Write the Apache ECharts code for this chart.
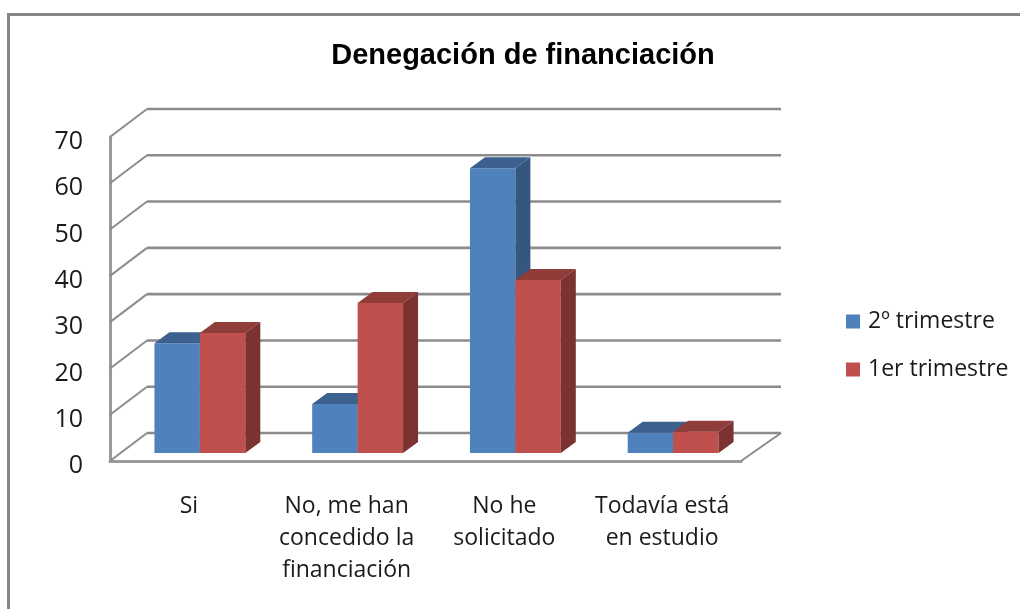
<!DOCTYPE html>
<html>
<head>
<meta charset="utf-8">
<style>
  html, body { margin: 0; padding: 0; background: #fff; }
  #chart { width: 1020px; height: 609px; }
</style>
</head>
<body>
<div id="chart"></div>
<script src="https://cdn.jsdelivr.net/npm/echarts@6/dist/echarts.min.js"></script>
<script>
// data
const categories = ['Si', 'No, me han\nconcedido la\nfinanciación', 'No he\nsolicitado', 'Todavía está\nen estudio']
const segundoTrimestre = [23.7, 10.6, 61.5, 4.4]
const primerTrimestre = [25.9, 32.4, 37.4, 4.6]
const yTicks = [0, 10, 20, 30, 40, 50, 60, 70]

const FONT = 'Open Sans'
const WALL = '#8c8c8c'
// fake 3d, in pixels
const floorDx = 37, floorDy = -28
const barDx = 11, barDy = -8
const depthDx = 15, depthDy = -11

const shade = {
  blue: { front: '#4f81bd', top: '#3c618e', side: '#34577f' },
  red: { front: '#c0504d', top: '#903c39', side: '#7b3230' }
}

const poly = (points, fill) => ({
  type: 'polygon',
  shape: { points },
  style: { fill }
})

// draws one 3d column, side = -1 left of the band centre, 0 right of it
const barRenderer = (side, colors) => (params, api) => {
  const cat = api.value(0)
  const top = api.coord([cat, api.value(1)])
  const base = api.coord([cat, 0])
  const w = api.size([1, 0])[0] * 0.288
  const x0 = top[0] + barDx + side * w
  const x1 = x0 + w
  const y0 = top[1] + barDy
  const y1 = base[1] + barDy
  return {
    type: 'group',
    children: [
      poly([[x0, y0], [x1, y0], [x1, y1], [x0, y1]], colors.front),
      poly([[x0, y0], [x1, y0], [x1 + depthDx, y0 + depthDy], [x0 + depthDx, y0 + depthDy]], colors.top),
      poly([[x1, y0], [x1 + depthDx, y0 + depthDy], [x1 + depthDx, y1 + depthDy], [x1, y1]], colors.side)
    ]
  }
}

// side wall diagonal + back wall line for one tick
const wallRenderer = (params, api) => {
  const left = api.coord([0, api.value(0)])
  const band = api.size([1, 0])[0]
  const x0 = left[0] - band / 2
  const y = left[1]
  const xEnd = x0 + band * categories.length
  const back = [x0 + floorDx, y + floorDy]
  const backEnd = [xEnd + floorDx + 3, y + floorDy]
  const children = [
    { type: 'line', shape: { x1: x0, y1: y, x2: back[0], y2: back[1] }, style: { stroke: WALL, lineWidth: 2 } },
    { type: 'line', shape: { x1: back[0], y1: back[1], x2: backEnd[0], y2: backEnd[1] }, style: { stroke: WALL, lineWidth: 2.6 } }
  ]
  if (api.value(0) === 0) {
    children.push({ type: 'line', shape: { x1: backEnd[0], y1: backEnd[1], x2: xEnd, y2: y }, style: { stroke: WALL, lineWidth: 2 } })
  }
  return { type: 'group', children }
}

const myChart = echarts.init(document.getElementById('chart'))

myChart.setOption({
  backgroundColor: '#fff',
  animation: false,
  title: {
    text: 'Denegación de financiación',
    left: 518,
    top: 36,
    textAlign: 'center',
    textStyle: { fontFamily: 'Liberation Sans', fontSize: 29, fontWeight: 'bold', color: '#000' }
  },
  legend: {
    orient: 'vertical',
    left: 841,
    top: 305,
    itemWidth: 14,
    itemHeight: 14,
    itemGap: 25,
    icon: 'rect',
    data: ['2º trimestre', '1er trimestre'],
    textStyle: { fontFamily: FONT, fontSize: 23, color: '#1a1a1a', padding: [0, 0, 0, 3] }
  },
  grid: { left: 110, top: 137, width: 631, height: 324 },
  xAxis: {
    type: 'category',
    data: categories,
    axisLine: { lineStyle: { color: '#9a9a9a', width: 3 } },
    axisTick: { show: false },
    axisLabel: {
      fontFamily: FONT,
      fontSize: 23,
      lineHeight: 32,
      color: '#1a1a1a',
      margin: 29,
      interval: 0
    }
  },
  yAxis: {
    type: 'value',
    min: 0,
    max: 70,
    interval: 10,
    axisLine: { show: true, lineStyle: { color: '#9a9a9a', width: 3 } },
    axisTick: { show: false },
    splitLine: { show: false },
    // top + short line box pushes the digits a little under the tick, like the original
    axisLabel: { fontFamily: FONT, fontSize: 25, color: '#1a1a1a', margin: 27, verticalAlign: 'top', lineHeight: 10 }
  },
  series: [
    {
      name: 'paredes',
      type: 'custom',
      z: 1,
      silent: true,
      renderItem: wallRenderer,
      encode: { y: 0 },
      data: yTicks.map(t => [t])
    },
    {
      name: '2º trimestre',
      type: 'custom',
      z: 2,
      itemStyle: { color: shade.blue.front },
      renderItem: barRenderer(-1, shade.blue),
      encode: { x: 0, y: 1 },
      data: segundoTrimestre.map((v, i) => [i, v])
    },
    {
      name: '1er trimestre',
      type: 'custom',
      z: 3,
      itemStyle: { color: shade.red.front },
      renderItem: barRenderer(0, shade.red),
      encode: { x: 0, y: 1 },
      data: primerTrimestre.map((v, i) => [i, v])
    }
  ],
  graphic: [
    // marco exterior, cortado por la captura
    {
      type: 'polyline',
      shape: { points: [[8.5, 609], [8.5, 14.5], [1020, 14.5]] },
      style: { stroke: '#868686', lineWidth: 3, fill: 'none' }
    }
  ]
})

window.addEventListener('resize', () => myChart.resize())
</script>
</body>
</html>
